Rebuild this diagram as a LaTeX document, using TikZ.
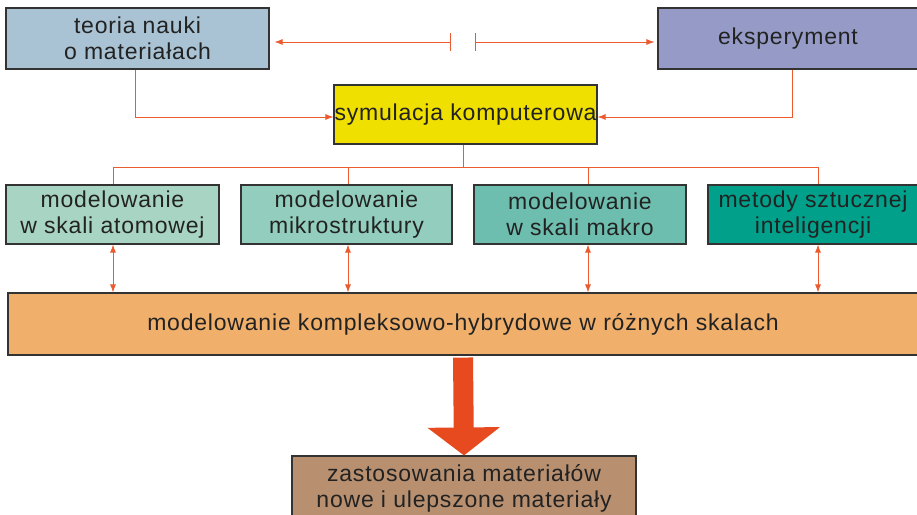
\documentclass[tikz,border=0pt]{standalone}
\usepackage{fontspec}
\setmainfont{Liberation Sans}[LetterSpace=3.5]
\usetikzlibrary{arrows.meta}
\definecolor{cteoria}{HTML}{A9C3D4}
\definecolor{cexp}{HTML}{959BC6}
\definecolor{csym}{HTML}{F0E000}
\definecolor{ca}{HTML}{A8D4C4}
\definecolor{cb}{HTML}{92CDBD}
\definecolor{cc}{HTML}{6DBEAE}
\definecolor{cd}{HTML}{00A08A}
\definecolor{corange}{HTML}{F0B06C}
\definecolor{cbottom}{HTML}{B89070}
\definecolor{cbig}{HTML}{E64A1E}
\definecolor{cline}{HTML}{EC5A30}
\definecolor{ctext}{HTML}{222222}
\definecolor{cborder}{HTML}{333333}
\tikzset{
  box/.style={draw=cborder, line width=1.1pt, inner sep=0pt, align=center,
    text=ctext, font=\fontsize{23}{26}\selectfont},
  conn/.style={draw=cline, line width=0.9pt},
  arr/.style={conn, -{Latex[length=8pt,width=6pt]}},
  darr/.style={conn, {Latex[length=8pt,width=6pt]}-{Latex[length=8pt,width=6pt]}},
}
\begin{document}
\begin{tikzpicture}[x=1pt,y=-1pt]
\useasboundingbox (0,0) rectangle (917,514);
\node[box, fill=cteoria, minimum width=263pt, minimum height=61pt] (teoria) at (137.5,38.5) {teoria nauki\\o materiałach};
\node[box, fill=cexp, minimum width=260pt, minimum height=61pt] (eksp) at (788,38.5) {eksperyment};
\node[box, fill=csym, minimum width=263pt, minimum height=59pt] (sym) at (465.5,114.5) {symulacja komputerowa};
\node[box, fill=ca, minimum width=213pt, minimum height=59pt] (A) at (112.5,214.5) {modelowanie\\w skali atomowej};
\node[box, fill=cb, minimum width=211pt, minimum height=59pt] (B) at (346.5,214.5) {modelowanie\\mikrostruktury};
\node[box, fill=cc, minimum width=212pt, minimum height=59pt] (C) at (580,214.5) {modelowanie\\w skali makro};
\node[box, fill=cd, minimum width=210pt, minimum height=59pt] (D) at (813,214.5) {metody sztucznej\\inteligencji};
\node[box, fill=corange, minimum width=910pt, minimum height=62pt] (hyb) at (463,324) {modelowanie kompleksowo-hybrydowe w różnych skalach};
\node[box, fill=cbottom, minimum width=344pt, minimum height=64pt] (zast) at (464,488) {zastosowania materiałów\\nowe i ulepszone materiały};
% top gap arrows
\coordinate (g1) at (450,42);
\coordinate (g2) at (475,42);
\draw[arr, shorten >=5pt] (g1) -- (g1 -| teoria.east);
\draw[arr, shorten >=3pt] (g2) -- (g2 -| eksp.west);
\draw[conn] ([yshift=9pt]g1) -- ([yshift=-9pt]g1);
\draw[conn] ([yshift=9pt]g2) -- ([yshift=-9pt]g2);
% to simulation
\draw[arr] ([xshift=-2.5pt]teoria.south) |- ([yshift=-2.5pt]sym.west);
\draw[arr] ([xshift=4pt]eksp.south) |- ([yshift=-2.5pt]sym.east);
% bus
\coordinate (bus) at (463,167);
\coordinate (dA) at (113,167);
\coordinate (dB) at (348,167);
\coordinate (dC) at (588,167);
\coordinate (dD) at (818,167);
\draw[conn] ([xshift=-2.5pt]sym.south) -- (bus);
\draw[conn] (dA) -- (dD);
\foreach \d/\n in {dA/A,dB/B,dC/C,dD/D}{
  \draw[conn] (\d) -- (\d |- \n.north);
  \draw[darr] (\d |- \n.south) -- (\d |- hyb.north);
}
% big arrow
\draw[cbig, line width=20pt, -{Triangle[length=28pt,width=71pt]}] ([yshift=-2pt]hyb.south) -- (zast.north);
\end{tikzpicture}
\end{document}
